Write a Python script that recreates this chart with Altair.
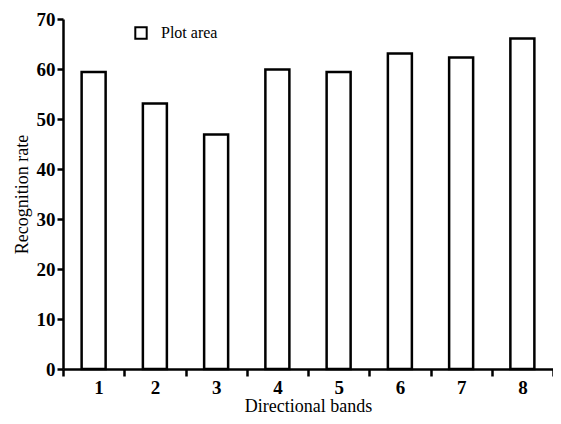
import altair as alt
import pandas as pd

bands = [1, 2, 3, 4, 5, 6, 7, 8]
rates = [59.4, 53.1, 46.9, 59.9, 59.4, 63.1, 62.3, 66.1]
series = ["Plot area"] * 8

df = pd.DataFrame({"band": bands, "rate": rates, "series": series})

tick_vals = [0.5 + i for i in range(9)]
font = "'Liberation Serif', 'Times New Roman', 'DejaVu Serif', serif"

W = 490
bars = alt.Chart(df).mark_bar(size=24, stroke="black", strokeWidth=2.5).encode(
    x=alt.X(
        "band:Q",
        scale=alt.Scale(domain=[0.5, 8.5], nice=False, zero=False, padding=0),
        axis=alt.Axis(
            values=tick_vals,
            labelExpr="datum.value < 8 ? format(datum.value + 0.5, 'd') : ''",
            labelOffset=W / 16,
            labelOverlap=False,
            labelBound=False,
            title="Directional bands",
            grid=False,
            tickSize=7,
            tickWidth=2.5,
            domainWidth=2.5,
            domainColor="black",
            tickColor="black",
            labelColor="black",
            labelFont=font,
            labelFontSize=19,
            labelFontWeight="bold",
            labelPadding=2,
            titleFont=font,
            titleFontSize=18,
            titleFontWeight="normal",
            titleColor="black",
            titlePadding=0,
        ),
    ),
    y=alt.Y(
        "rate:Q",
        scale=alt.Scale(domain=[0, 70], nice=False),
        axis=alt.Axis(
            values=[0, 10, 20, 30, 40, 50, 60, 70],
            title="Recognition rate",
            grid=False,
            tickSize=6,
            tickWidth=2.5,
            domainWidth=2.5,
            domainColor="black",
            tickColor="black",
            labelColor="black",
            labelFont=font,
            labelFontSize=19,
            labelFontWeight="bold",
            labelPadding=2,
            titleFont=font,
            titleFontSize=18,
            titleFontWeight="normal",
            titleColor="black",
            titlePadding=5,
        ),
    ),
    fill=alt.Fill(
        "series:N",
        scale=alt.Scale(range=["white"]),
        legend=alt.Legend(
            title=None,
            orient="none",
            legendX=70,
            legendY=6,
            symbolType="square",
            symbolSize=130,
            symbolStrokeColor="black",
            symbolStrokeWidth=2,
            symbolFillColor="white",
            labelFont=font,
            labelFontSize=16,
            labelColor="black",
            labelOffset=12,
        ),
    ),
)

chart = bars.properties(
    width=W,
    height=350,
    autosize=alt.AutoSizeParams(type="none"),
    padding={"left": 55, "top": 11, "right": 0, "bottom": 46},
).configure_view(stroke=None)

chart.save("out.html", embed_options={"renderer": "svg", "actions": False})
